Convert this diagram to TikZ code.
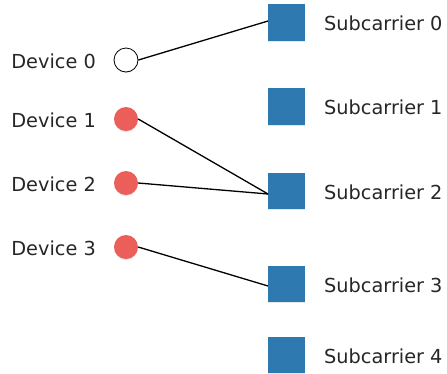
\documentclass[tikz,border=0pt]{standalone}
\usepackage{fontspec}
\setmainfont{DejaVu Sans}
\usepackage{tikz}
\usetikzlibrary{shadows}
\definecolor{devred}{RGB}{236,94,90}
\definecolor{subblue}{RGB}{46,122,176}
\tikzset{
  device/.style={circle,minimum size=24pt,inner sep=0pt,fill=devred,
    drop shadow={opacity=0.2,shadow xshift=0pt,shadow yshift=-1pt}},
  freedevice/.style={device,fill=white,draw=black,line width=0.8pt},
  subcarrier/.style={rectangle,minimum size=36.5pt,inner sep=0pt,fill=subblue,
    drop shadow={opacity=0.2,shadow xshift=0pt,shadow yshift=-1pt}},
  devlabel/.style={anchor=east,inner sep=0pt,text=black!85,font=\fontsize{19.3}{21}\selectfont},
  sublabel/.style={anchor=west,inner sep=0pt,text=black!85,font=\fontsize{19.3}{21}\selectfont},
  link/.style={line width=1.3pt}
}
\begin{document}
\begin{tikzpicture}[x=1pt,y=-1pt]
\useasboundingbox (0,0) rectangle (447,373);
% devices
\node[freedevice] (dev0) at (126,60) {};
\node[device] (dev1) at (126,119) {};
\node[device] (dev2) at (126,183) {};
\node[device] (dev3) at (126,247) {};
\node[devlabel] (dl0) at (96,61) {Device 0};
\node[devlabel] (dl1) at (96,120) {Device 1};
\node[devlabel] (dl2) at (96,184) {Device 2};
\node[devlabel] (dl3) at (96,248) {Device 3};
% subcarriers
\node[subcarrier] (sub0) at (286.5,22.5) {};
\node[subcarrier] (sub1) at (286.5,106.5) {};
\node[subcarrier] (sub2) at (286.5,191) {};
\node[subcarrier] (sub3) at (286.5,284) {};
\node[subcarrier] (sub4) at (286.5,355) {};
\node[sublabel] (sl0) at (324,23) {Subcarrier 0};
\node[sublabel] (sl1) at (324,107) {Subcarrier 1};
\node[sublabel] (sl2) at (324,192) {Subcarrier 2};
\node[sublabel] (sl3) at (324,285) {Subcarrier 3};
\node[sublabel] (sl4) at (324,356) {Subcarrier 4};
% assignments
\draw[link] (dev0.east) -- ([yshift=1.5pt]sub0.west);
\draw[link] (dev1.east) -- ([yshift=-3pt]sub2.west);
\draw[link] (dev2.east) -- ([yshift=-3pt]sub2.west);
\draw[link] (dev3.east) -- ([yshift=-2pt]sub3.west);
\end{tikzpicture}
\end{document}
